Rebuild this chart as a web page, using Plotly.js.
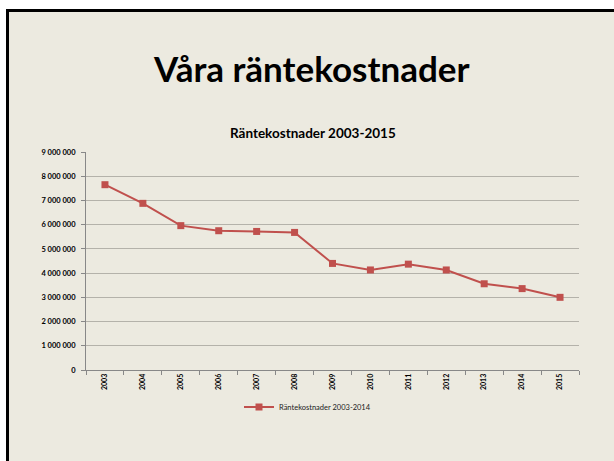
<!DOCTYPE html>
<html><head><meta charset="utf-8">
<script src="https://cdn.plot.ly/plotly-3.0.1.min.js"></script>
<style>html,body{margin:0;padding:0;background:#fff;}#chart{width:614px;height:461px;}</style>
</head><body><div id="chart"></div>
<script>
const years = ['2003','2004','2005','2006','2007','2008','2009','2010','2011','2012','2013','2014','2015'];
const costs = [7650000,6880000,5960000,5750000,5720000,5680000,4400000,4130000,4370000,4130000,3560000,3360000,3000000];
const yTicks = [0,1000000,2000000,3000000,4000000,5000000,6000000,7000000,8000000,9000000];
const yTickText = ['0','1 000 000','2 000 000','3 000 000','4 000 000','5 000 000','6 000 000','7 000 000','8 000 000','9 000 000'];
const seriesName = 'Räntekostnader 2003-2014';
const slideTitle = 'Våra räntekostnader';
const chartTitle = 'Räntekostnader 2003-2015';

const W=614,H=461, L=86, R=35, T=152, B=91;
const pw=W-L-R, ph=H-T-B;
const px = x => (x-L)/pw;
const py = y => (H-B-y)/ph;
const red='#C0504D';
const font="Lato, 'Open Sans', sans-serif";

Plotly.newPlot('chart',[{
  x: years, y: costs, type:'scatter', mode:'lines+markers', name: seriesName,
  line:{color:red,width:2}, marker:{symbol:'square',size:7,color:red}
}],{
  width:W,height:H,
  margin:{l:L,r:R,t:T,b:B},
  paper_bgcolor:'#ffffff', plot_bgcolor:'rgba(0,0,0,0)',
  font:{family:font,color:'#000'},
  showlegend:true,
  legend:{orientation:'h',x:px(239),xanchor:'left',y:py(407),yanchor:'middle',
    font:{size:7.5,family:font,color:'#222'},bgcolor:'rgba(0,0,0,0)',itemwidth:30},
  xaxis:{type:'category',showgrid:false,showline:true,linecolor:'#888',linewidth:1,
    ticks:'outside',ticklen:4,tickcolor:'#888',tickangle:-90,
    tickfont:{size:7,family:font,weight:'bold'},tickson:'boundaries',range:[-0.5,12.5]},
  yaxis:{range:[0,9000000],tickvals:yTicks,ticktext:yTickText,showgrid:true,gridcolor:'#b4b2aa',gridwidth:1,
    showline:true,linecolor:'#888',linewidth:1,ticks:'outside',ticklen:4,tickcolor:'#888',
    tickfont:{size:7.5,family:font,weight:'bold'},zeroline:false,fixedrange:true,ticklabelstandoff:4},
  shapes:[{type:'rect',xref:'paper',yref:'paper',x0:px(7.5),x1:px(620),y0:py(470),y1:py(10.5),
    fillcolor:'#ECEAE0',line:{color:'#000',width:3},layer:'below'}],
  annotations:[
    {text:slideTitle,xref:'paper',yref:'paper',x:px(311),y:py(68),xanchor:'center',yanchor:'middle',showarrow:false,
     font:{size:35,family:"Lato, sans-serif",weight:'bold',color:'#000'}},
    {text:chartTitle,xref:'paper',yref:'paper',x:px(312.5),y:py(133),xanchor:'center',yanchor:'middle',showarrow:false,
     font:{size:13.5,family:font,weight:'bold',color:'#000'}}
  ]
},{displayModeBar:false,staticPlot:true});
</script></body></html>
